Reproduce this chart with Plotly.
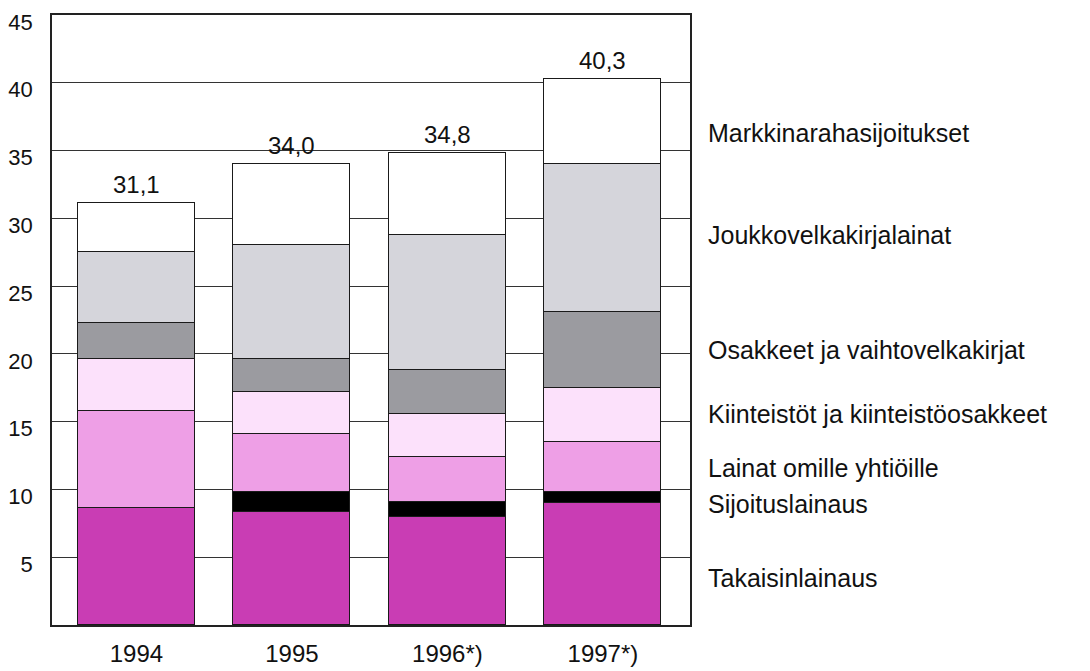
import plotly.graph_objects as go

years = ["1994", "1995", "1996*)", "1997*)"]
series_names = [
    "Takaisinlainaus",
    "Sijoituslainaus",
    "Lainat omille yhtiöille",
    "Kiinteistöt ja kiinteistöosakkeet",
    "Osakkeet ja vaihtovelkakirjat",
    "Joukkovelkakirjalainat",
    "Markkinarahasijoitukset",
]
takaisinlainaus = [8.6, 8.3, 8.0, 9.0]
sijoituslainaus = [0.0, 1.5, 1.1, 0.8]
lainat_omille = [7.2, 4.3, 3.3, 3.7]
kiinteistot = [3.8, 3.1, 3.2, 4.0]
osakkeet = [2.7, 2.4, 3.2, 5.6]
joukkovelka = [5.2, 8.4, 10.0, 10.9]
markkinaraha = [3.6, 6.0, 6.0, 6.3]
totals = [31.1, 34.0, 34.8, 40.3]
total_labels = ["31,1", "34,0", "34,8", "40,3"]
y_ticks = [5, 10, 15, 20, 25, 30, 35, 40, 45]
label_y = [3.5, 8.9, 11.6, 15.6, 20.3, 28.8, 36.3]

values = [takaisinlainaus, sijoituslainaus, lainat_omille, kiinteistot,
          osakkeet, joukkovelka, markkinaraha]
colors = ["#C93DB4", "#000000", "#EE9FE6", "#FCE1FB", "#9B9BA0", "#D5D5DB", "#FFFFFF"]

FONT = "Liberation Sans, Arial, sans-serif"
xpos = [0, 1, 2, 3]

fig = go.Figure()
for name, vals, col in zip(series_names, values, colors):
    fig.add_trace(go.Bar(
        x=xpos, y=vals, name=name,
        marker=dict(color=col, line=dict(color="#1a1a1a", width=1.2)),
        width=0.752, showlegend=False,
    ))

for xp, tot, lab in zip(xpos, totals, total_labels):
    fig.add_annotation(
        x=xp, y=tot, xref="x", yref="y", text=lab, showarrow=False,
        yanchor="bottom", yshift=3,
        font=dict(family=FONT, size=24, color="#111"),
    )

for name, ly in zip(series_names, label_y):
    fig.add_annotation(
        x=1.025, xref="paper", y=ly, yref="y",
        text=name, showarrow=False, xanchor="left", yanchor="middle",
        font=dict(family=FONT, size=25, color="#111"),
    )

fig.update_layout(
    barmode="stack",
    width=1082, height=663,
    margin=dict(l=44, r=400, t=7, b=46, autoexpand=False),
    paper_bgcolor="white", plot_bgcolor="white",
    bargap=0,
    font=dict(family=FONT, size=24, color="#111"),
)
fig.update_xaxes(
    range=[-0.543, 3.56],
    tickvals=xpos, ticktext=years,
    showgrid=False, zeroline=False, automargin=False,
    showline=True, linecolor="#222", linewidth=1.5, mirror=True,
    ticks="", ticklabelstandoff=6, ticklabeloverflow="allow",
    tickfont=dict(family=FONT, size=24, color="#111"),
)
fig.update_yaxes(
    range=[0, 45], tickvals=y_ticks,
    showgrid=True, gridcolor="#333", gridwidth=1,
    zeroline=False, automargin=False,
    showline=True, linecolor="#222", linewidth=1.5, mirror=True,
    ticks="", ticklabelstandoff=13, ticklabelshift=7,
    ticklabeloverflow="allow",
    tickfont=dict(family=FONT, size=22, color="#111"),
)

fig.write_html("out.html")
